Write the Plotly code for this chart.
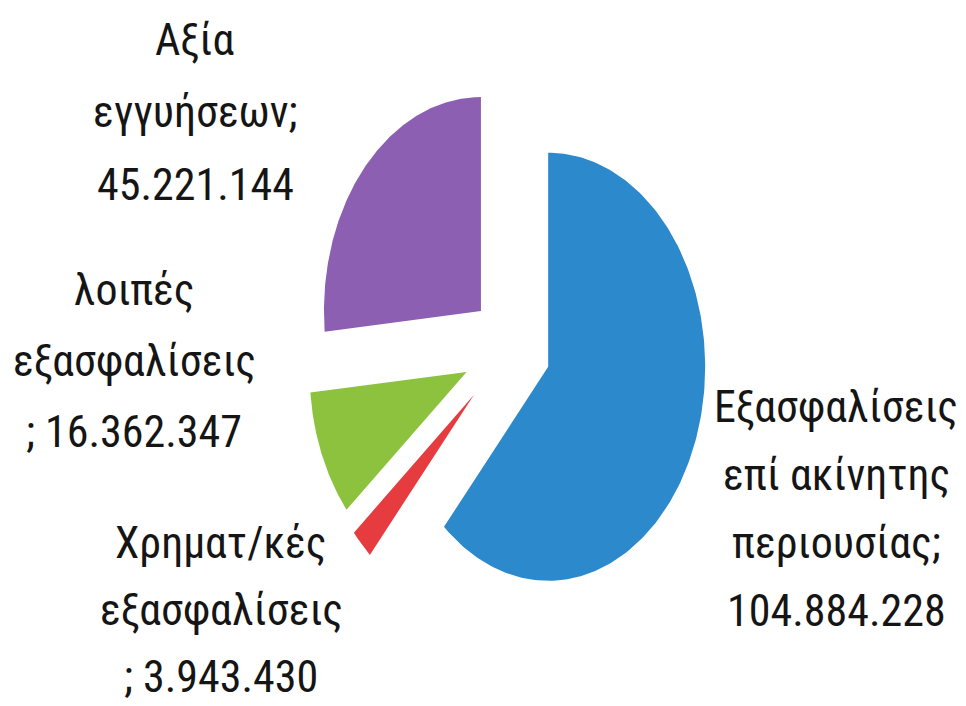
import numpy as np
import plotly.graph_objects as go

# Collateral breakdown (EUR), slices ordered clockwise from 12 o'clock
category_lines = [
    ["Εξασφαλίσεις", "επί ακίνητης", "περιουσίας"],
    ["Χρηματ/κές", "εξασφαλίσεις"],
    ["λοιπές", "εξασφαλίσεις"],
    ["Αξία", "εγγυήσεων"],
]
values = [104884228, 3943430, 16362347, 45221144]
semicolon_on_value_line = [False, True, True, False]

# Styling
colors = ["#2c89cb", "#e63b3f", "#8cc23d", "#8d5fb2"]
pulls = [0.26, 0.32, 0.30, 0.25]
# label placement in pixels: centre x, first line centre y, line step
label_pos = [(836, 407, 68), (221, 543, 67), (134, 290, 71), (195, 40, 72.5)]

W, H = 966, 706
CX, CY = 510, 347          # pie centre (px)
RX, RY = 157, 214          # px per unit radius, horizontal / vertical


def fmt(v):
    return f"{v:,}".replace(",", ".")


fig = go.Figure()

total = float(sum(values))
start = 0.0
for i, v in enumerate(values):
    sweep = v / total * 2 * np.pi
    t = np.linspace(start, start + sweep, 200)
    mid = start + sweep / 2
    ox, oy = pulls[i] * np.sin(mid), pulls[i] * np.cos(mid)
    xs = np.concatenate([[ox], ox + np.sin(t), [ox]])
    ys = np.concatenate([[oy], oy + np.cos(t), [oy]])
    fig.add_trace(go.Scatter(
        x=xs, y=ys, mode="lines", fill="toself", fillcolor=colors[i],
        line=dict(width=0, color=colors[i]), hoverinfo="skip", showlegend=False,
    ))
    start += sweep

    # data label
    names = category_lines[i]
    if semicolon_on_value_line[i]:
        lines = names + ["; " + fmt(v)]
    else:
        lines = names[:-1] + [names[-1] + ";", fmt(v)]
    lx, ly, step = label_pos[i]
    for k, line in enumerate(lines):
        fig.add_annotation(
            x=lx / W, y=1 - (ly + k * step) / H, xref="paper", yref="paper",
            xanchor="center", yanchor="middle", showarrow=False, text=line,
            font=dict(family="Roboto Condensed, DejaVu Sans Condensed, sans-serif",
                      size=44, color="#151515"),
        )

fig.update_layout(
    width=W, height=H, margin=dict(l=0, r=0, t=0, b=0),
    paper_bgcolor="white", plot_bgcolor="white",
    xaxis=dict(range=[-CX / RX, (W - CX) / RX], visible=False, fixedrange=True),
    yaxis=dict(range=[-(H - CY) / RY, CY / RY], visible=False, fixedrange=True),
)

fig.write_html("out.html")
